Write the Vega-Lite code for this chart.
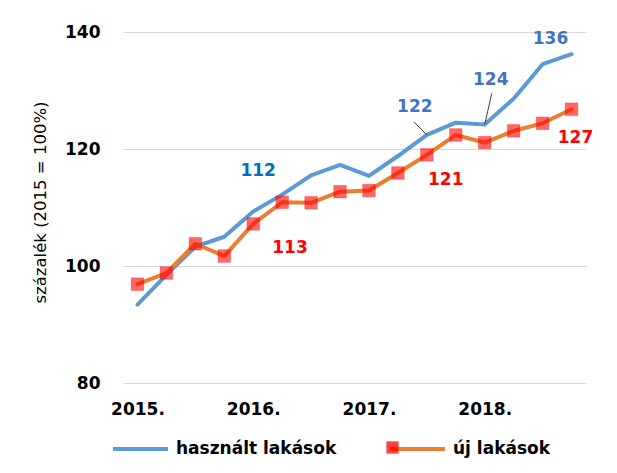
{
"$schema": "https://vega.github.io/schema/vega-lite/v6.json",
"width": 463, "height": 351,
"autosize": {"type": "none"},
"padding": {"left": 123, "top": 32, "right": 31, "bottom": 90},
"background": "#ffffff",
"config": {"view": {"stroke": null}, "font": "DejaVu Sans"},
"data": {"values": [
{"period":"2015 Q1","series":"használt lakások","value":93.4},
{"period":"2015 Q2","series":"használt lakások","value":98.5},
{"period":"2015 Q3","series":"használt lakások","value":103.3},
{"period":"2015 Q4","series":"használt lakások","value":105.0},
{"period":"2016 Q1","series":"használt lakások","value":109.3},
{"period":"2016 Q2","series":"használt lakások","value":112.2},
{"period":"2016 Q3","series":"használt lakások","value":115.5},
{"period":"2016 Q4","series":"használt lakások","value":117.3},
{"period":"2017 Q1","series":"használt lakások","value":115.4},
{"period":"2017 Q2","series":"használt lakások","value":118.8},
{"period":"2017 Q3","series":"használt lakások","value":122.4},
{"period":"2017 Q4","series":"használt lakások","value":124.5},
{"period":"2018 Q1","series":"használt lakások","value":124.2},
{"period":"2018 Q2","series":"használt lakások","value":128.6},
{"period":"2018 Q3","series":"használt lakások","value":134.5},
{"period":"2018 Q4","series":"használt lakások","value":136.2},
{"period":"2015 Q1","series":"új lakások","value":96.9},
{"period":"2015 Q2","series":"új lakások","value":98.8},
{"period":"2015 Q3","series":"új lakások","value":103.8},
{"period":"2015 Q4","series":"új lakások","value":101.7},
{"period":"2016 Q1","series":"új lakások","value":107.2},
{"period":"2016 Q2","series":"új lakások","value":110.9},
{"period":"2016 Q3","series":"új lakások","value":110.8},
{"period":"2016 Q4","series":"új lakások","value":112.7},
{"period":"2017 Q1","series":"új lakások","value":112.9},
{"period":"2017 Q2","series":"új lakások","value":115.9},
{"period":"2017 Q3","series":"új lakások","value":119.0},
{"period":"2017 Q4","series":"új lakások","value":122.4},
{"period":"2018 Q1","series":"új lakások","value":121.1},
{"period":"2018 Q2","series":"új lakások","value":123.1},
{"period":"2018 Q3","series":"új lakások","value":124.4},
{"period":"2018 Q4","series":"új lakások","value":126.8}
]},
"encoding": {
  "x": {"field": "period", "type": "ordinal", "sort": null,
        "scale": {"type": "point", "padding": 0.5},
        "axis": {"title": null, "domain": false, "ticks": false, "grid": false, "labelAngle": 0,
                 "labelOverlap": false, "labelFont": "DejaVu Sans", "labelFontSize": 17, "labelFontWeight": "bold",
                 "labelColor": "#000000", "labelPadding": 18, "labelBaseline": "top",
                 "labelExpr": "substring(datum.value, 5) === 'Q1' ? substring(datum.value, 0, 4) + '.' : ''"}},
  "y": {"field": "value", "type": "quantitative",
        "scale": {"domain": [80, 140], "nice": false, "zero": false},
        "axis": {"values": [80, 100, 120, 140], "grid": true, "gridColor": "#D9D9D9", "gridWidth": 1,
                 "domain": false, "ticks": false, "labelFont": "DejaVu Sans", "labelFontSize": 17,
                 "labelFontWeight": "bold", "labelColor": "#000000", "labelPadding": 23,
                 "title": "százalék (2015 = 100%)", "titleFont": "DejaVu Sans", "titleFontSize": 16.5,
                 "titleFontWeight": "normal", "titleColor": "#000000", "titleAngle": -90,
                 "titleX": -83, "titleY": 170, "titleAlign": "center", "titleBaseline": "middle"}}
},
"layer": [
  {"mark": {"type": "line", "strokeWidth": 4, "strokeJoin": "round", "strokeCap": "round"},
   "encoding": {"color": {"field": "series", "type": "nominal",
      "scale": {"domain": ["használt lakások", "új lakások"], "range": ["#5B9BD5", "#ED7D31"]},
      "legend": {"orient": "none", "legendX": 4.5, "legendY": 404, "direction": "horizontal", "title": null,
                 "labelFont": "DejaVu Sans", "labelFontSize": 17, "labelFontWeight": "bold", "labelColor": "#000000",
                 "labelLimit": 0,
                 "symbolSize": 484, "symbolType": "M-2.5,0L2.5,0", "symbolStrokeWidth": 4,
                 "labelOffset": 22.5, "columnPadding": 45}}}},
  {"transform": [{"filter": "datum.series === 'új lakások'"}],
   "mark": {"type": "point", "shape": "square", "size": 160, "filled": true, "fillOpacity": 0.6,
            "stroke": "#FF0000", "strokeOpacity": 0.25, "strokeWidth": 1},
   "encoding": {"fill": {"field": "series", "type": "nominal",
      "scale": {"domain": ["új lakások"], "range": ["#FF0000"]},
      "legend": {"orient": "none", "legendX": 263, "legendY": 409, "title": null, "symbolType": "square",
                 "symbolSize": 150, "symbolOpacity": 0.75, "symbolStrokeWidth": 0,
                 "labelOpacity": 0, "labelFontSize": 1, "labelExpr": "''"}}}},
  {"transform": [{"filter": "datum.series === 'használt lakások' && datum.period === '2017 Q3'"}],
   "mark": {"type": "rule", "color": "#404040", "strokeWidth": 1, "x2Offset": -13, "y2Offset": -13},
   "encoding": {"x2": {"field": "period"}, "y2": {"field": "value"}}},
  {"transform": [{"filter": "datum.series === 'használt lakások' && datum.period === '2018 Q1'"}],
   "mark": {"type": "rule", "color": "#404040", "strokeWidth": 1, "x2Offset": 7, "y2Offset": -31},
   "encoding": {"x2": {"field": "period"}, "y2": {"field": "value"}}},
  {"transform": [{"filter": "datum.series === 'használt lakások' && datum.period === '2016 Q2'"}],
   "mark": {"type": "text", "dx": -24, "dy": -24, "color": "#0070C0", "font": "DejaVu Sans", "fontSize": 17, "fontWeight": "bold", "align": "center", "baseline": "middle"},
   "encoding": {"text": {"field": "value", "type": "quantitative", "format": ".0f"}}},
  {"transform": [{"filter": "datum.series === 'használt lakások' && datum.period === '2017 Q3'"}],
   "mark": {"type": "text", "dx": -12, "dy": -28, "color": "#4472C4", "font": "DejaVu Sans", "fontSize": 17, "fontWeight": "bold", "align": "center", "baseline": "middle"},
   "encoding": {"text": {"field": "value", "type": "quantitative", "format": ".0f"}}},
  {"transform": [{"filter": "datum.series === 'használt lakások' && datum.period === '2018 Q1'"}],
   "mark": {"type": "text", "dx": 6, "dy": -44, "color": "#4472C4", "font": "DejaVu Sans", "fontSize": 17, "fontWeight": "bold", "align": "center", "baseline": "middle"},
   "encoding": {"text": {"field": "value", "type": "quantitative", "format": ".0f"}}},
  {"transform": [{"filter": "datum.series === 'használt lakások' && datum.period === '2018 Q4'"}],
   "mark": {"type": "text", "dx": -21, "dy": -15, "color": "#4472C4", "font": "DejaVu Sans", "fontSize": 17, "fontWeight": "bold", "align": "center", "baseline": "middle"},
   "encoding": {"text": {"field": "value", "type": "quantitative", "format": ".0f"}}},
  {"transform": [{"filter": "datum.series === 'új lakások' && datum.period === '2016 Q4'"}],
   "mark": {"type": "text", "dx": -50, "dy": 56, "color": "#FF0000", "font": "DejaVu Sans", "fontSize": 17, "fontWeight": "bold", "align": "center", "baseline": "middle"},
   "encoding": {"text": {"field": "value", "type": "quantitative", "format": ".0f"}}},
  {"transform": [{"filter": "datum.series === 'új lakások' && datum.period === '2018 Q1'"}],
   "mark": {"type": "text", "dx": -39, "dy": 37, "color": "#FF0000", "font": "DejaVu Sans", "fontSize": 17, "fontWeight": "bold", "align": "center", "baseline": "middle"},
   "encoding": {"text": {"field": "value", "type": "quantitative", "format": ".0f"}}},
  {"transform": [{"filter": "datum.series === 'új lakások' && datum.period === '2018 Q4'"}],
   "mark": {"type": "text", "dx": 4, "dy": 29, "color": "#FF0000", "font": "DejaVu Sans", "fontSize": 17, "fontWeight": "bold", "align": "center", "baseline": "middle"},
   "encoding": {"text": {"field": "value", "type": "quantitative", "format": ".0f"}}}
]
}
